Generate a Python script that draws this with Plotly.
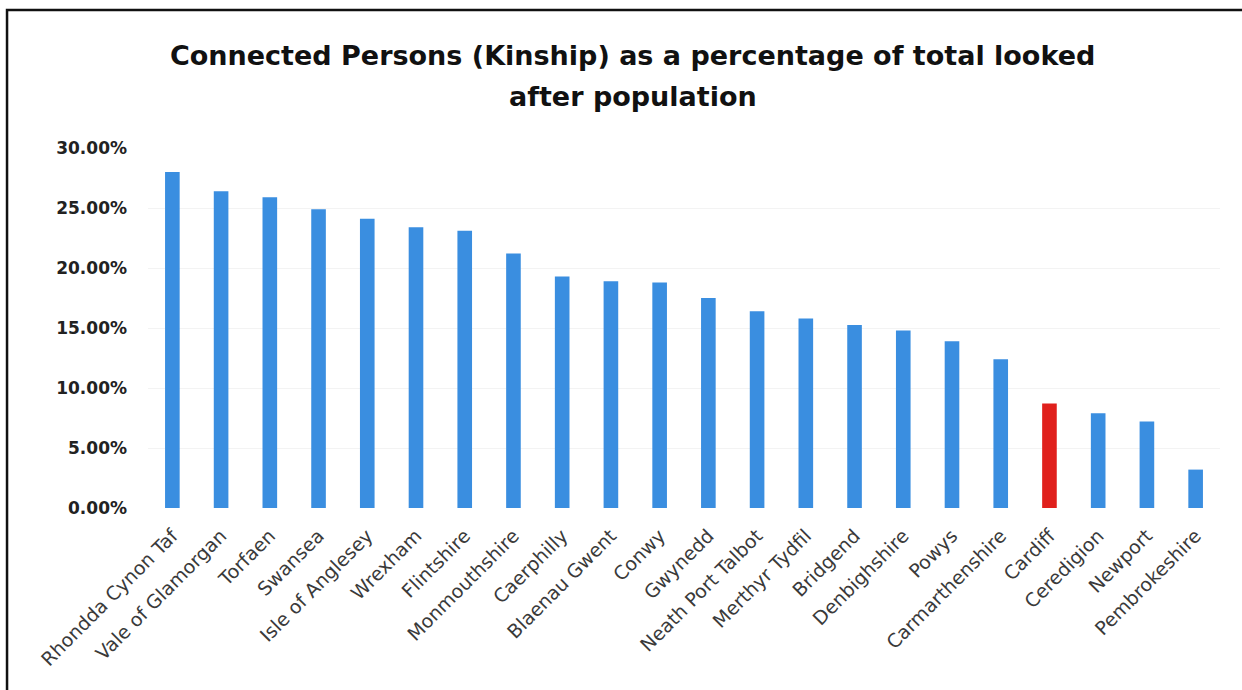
import plotly.graph_objects as go

categories = ["Rhondda Cynon Taf", "Vale of Glamorgan", "Torfaen", "Swansea", "Isle of Anglesey",
              "Wrexham", "Flintshire", "Monmouthshire", "Caerphilly", "Blaenau Gwent", "Conwy",
              "Gwynedd", "Neath Port Talbot", "Merthyr Tydfil", "Bridgend", "Denbighshire", "Powys",
              "Carmarthenshire", "Cardiff", "Ceredigion", "Newport", "Pembrokeshire"]
values = [0.280, 0.264, 0.259, 0.249, 0.241, 0.234, 0.231, 0.212, 0.193, 0.189, 0.188,
          0.175, 0.164, 0.158, 0.1525, 0.148, 0.139, 0.124, 0.087, 0.079, 0.072, 0.032]
highlight = "Cardiff"
tick_vals = [0, 0.05, 0.10, 0.15, 0.20, 0.25, 0.30]
tick_text = ["0.00%", "5.00%", "10.00%", "15.00%", "20.00%", "25.00%", "30.00%"]
title_line1 = "Connected Persons (Kinship) as a percentage of total looked"
title_line2 = "after population"

BLUE = "#3a8ee0"
RED = "#e0201c"
colors = [RED if c == highlight else BLUE for c in categories]

fig = go.Figure(go.Bar(x=categories, y=values, marker_color=colors, marker_line_width=0))

FONT = "DejaVu Sans"
fig.update_layout(
    width=1242, height=690,
    margin=dict(l=148, r=22, t=148, b=182, autoexpand=False),
    paper_bgcolor="white", plot_bgcolor="white",
    bargap=0.7,
    showlegend=False,
    font=dict(family=FONT, color="#404040"),
)
fig.update_xaxes(
    range=[-0.5, len(categories) - 0.5],
    tickangle=-45, tickfont=dict(size=19, color="#3a3a3a", family=FONT),
    showline=False, showgrid=False, ticks="", automargin=False,
    ticklabelstandoff=12,
)
fig.update_yaxes(
    range=[0, 0.30], tickvals=tick_vals, ticktext=tick_text,
    tickfont=dict(size=17, color="#222222", family=FONT, weight="bold"),
    showgrid=True, gridcolor="#f3f3f3", zeroline=False, showline=False, ticks="",
    ticklabelstandoff=20, automargin=False,
)
for txt, yy in [(title_line1, 1.258), (title_line2, 1.1417)]:
    fig.add_annotation(
        text=txt, xref="paper", yref="paper",
        x=0.4524, y=yy, xanchor="center", yanchor="middle",
        showarrow=False, font=dict(size=27, color="#111111", family=FONT, weight="bold"),
    )
fig.add_shape(type="rect", xref="paper", yref="paper",
              x0=-0.1315, x1=1.05, y0=-0.6, y1=1.383,
              line=dict(color="#111111", width=2.5), fillcolor="rgba(0,0,0,0)", layer="above")

fig.write_html("out.html", config={"displayModeBar": False},
               post_script="document.body.style.margin='0px';")
